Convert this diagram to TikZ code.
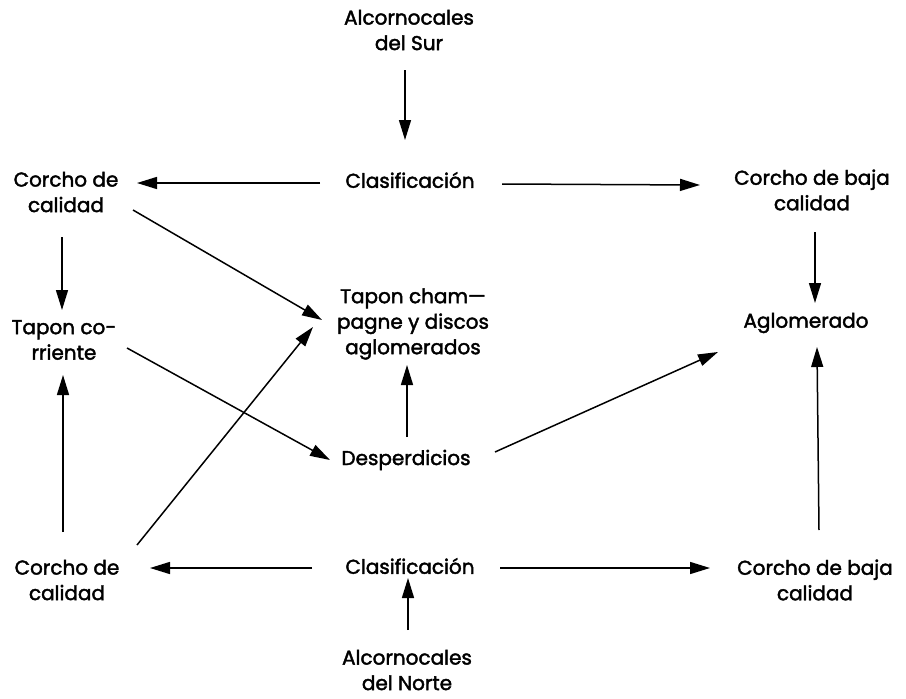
\documentclass[tikz,border=0pt]{standalone}
\usepackage{fontspec}
\setmainfont[FakeBold=2]{Poppins}
\usetikzlibrary{arrows.meta,calc}
\begin{document}
\begin{tikzpicture}[x=1pt,y=-1pt,
  lbl/.style={inner sep=0pt,align=center,font=\fontsize{20}{25.5}\selectfont},
  arr/.style={line width=1.5pt,-{Triangle[length=20pt,width=12pt]}}]
\useasboundingbox (0,0) rectangle (906,699);
\node[lbl] (sur) at (409,30) {Alcornocales\\del Sur};
\node[lbl] (c1) at (410,180) {Clasificación};
\node[lbl] (ct) at (66,192) {Corcho de\\calidad};
\node[lbl] (bt) at (812,190) {Corcho de baja\\calidad};
\node[lbl] (ag) at (806,323) {Aglomerado};
\node[lbl] (tc) at (64,340) {Tapon co-\\rriente};
\node[lbl] (tch) at (413,324) {Tapon cham—\\pagne y discos\\aglomerados};
\node[lbl] (de) at (406,460) {Desperdicios};
\node[lbl] (cb) at (67,580) {Corcho de\\calidad};
\node[lbl] (c2) at (410,566) {Clasificación};
\node[lbl] (bb) at (815,580) {Corcho de baja\\calidad};
\node[lbl] (no) at (407,670) {Alcornocales\\del Norte};

\draw[arr] ($(sur)+(-4,40)$) -- ($(c1)+(-5,-40)$);
\draw[arr] ($(c1)+(-90,3)$) -- ($(ct)+(71,-9)$);
\draw[arr] ($(c1)+(92,4)$) -- ($(bt)+(-112,-5)$);
\draw[arr] ($(bt)+(3,42)$) -- ($(ag)+(9,-20)$);
\draw[arr] ($(ct)+(-4,45)$) -- ($(tc)+(-2,-30)$);
\draw[arr] ($(ct)+(67,18)$) -- ($(tch)+(-91,-4)$);
\draw[arr] ($(cb)+(70,-35)$) -- ($(tch)+(-100,3)$);
\draw[arr] ($(tc)+(63,8)$) -- ($(de)+(-76,0)$);
\draw[arr] ($(de)+(1,-23)$) -- ($(tch)+(-6,41)$);
\draw[arr] ($(de)+(89,-8)$) -- ($(ag)+(-88,29)$);
\draw[arr] ($(cb)+(-4,-48)$) -- ($(tc)+(-1,35)$);
\draw[arr] ($(c2)+(-98,2)$) -- ($(cb)+(83,-12)$);
\draw[arr] ($(c2)+(90,2)$) -- ($(bb)+(-105,-12)$);
\draw[arr] ($(bb)+(4,-50)$) -- ($(ag)+(11,24)$);
\draw[arr] ($(no)+(1,-40)$) -- ($(c2)+(-2,12)$);
\end{tikzpicture}
\end{document}
